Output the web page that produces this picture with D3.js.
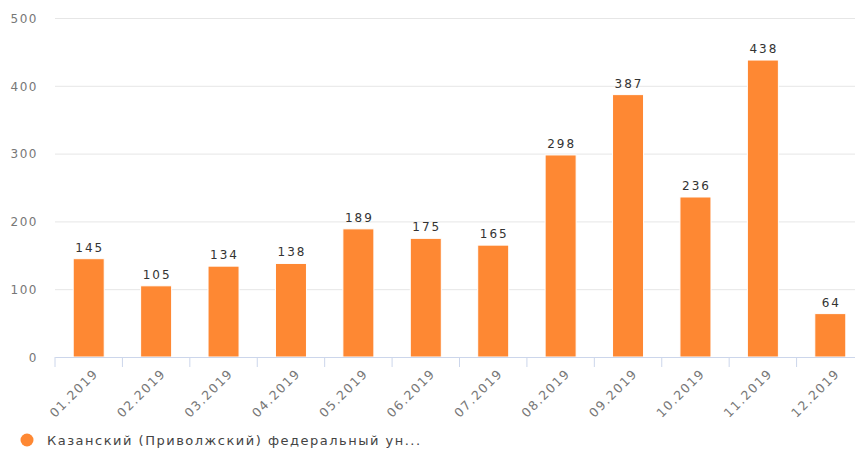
<html>
<head>
    <meta charset="UTF-8">
    <title>Bar Chart</title>
    <script src="https://d3js.org/d3.v7.min.js"></script>
    <style>
        body { margin: 0; background: #fff; overflow: hidden; }
        text { font-family: "DejaVu Sans", Verdana, sans-serif; }
    </style>
</head>
<body>
    <svg width="855" height="449" style="overflow:hidden"></svg>
    <script>
        // data
        var months = ['01.2019', '02.2019', '03.2019', '04.2019', '05.2019', '06.2019',
                      '07.2019', '08.2019', '09.2019', '10.2019', '11.2019', '12.2019'];
        var counts = [145, 105, 134, 138, 189, 175, 165, 298, 387, 236, 438, 64];
        var yTicks = [0, 100, 200, 300, 400, 500];
        var seriesName = 'Казанский (Приволжский) федеральный ун...';

        // the plot runs a little past the right edge of the picture (it is cropped there)
        var margin = { top : 18, right : -9, left : 55, bottom : 92 },
            svg = d3.select('svg'),
            width = +svg.attr('width') - margin.left - margin.right,
            height = +svg.attr('height') - margin.top - margin.bottom,
            g = svg.append('g').attr('transform', 'translate(' + margin.left + ',' + margin.top + ')');

        var x = d3.scaleBand().domain(months).range([0, width]).paddingInner(0.54).paddingOuter(0.27);
        var y = d3.scaleLinear().domain([0, 500]).range([height, 0]);

        // grid + y labels
        var yAxis = g.append('g')
            .call(d3.axisLeft(y).tickValues(yTicks).tickSize(-width).tickPadding(17));
        yAxis.select('.domain').remove();
        yAxis.selectAll('line').attr('stroke', '#e6e6e6');
        yAxis.selectAll('text').attr('fill', '#777')
            .style('font-size', '12px').style('letter-spacing', '1.5px')
            .attr('dy', '0.35em');

        // bars
        g.selectAll('.bar').data(counts).enter().append('rect')
            .attr('x', (d, i) => x(months[i]))
            .attr('y', d => y(d))
            .attr('width', x.bandwidth())
            .attr('height', d => height - y(d))
            .attr('fill', '#fe8833')
            .attr('stroke', '#fff')
            .attr('stroke-width', 1);

        g.selectAll('.lbl').data(counts).enter().append('text')
            .attr('x', (d, i) => x(months[i]) + x.bandwidth() / 2 + 1)
            .attr('y', d => y(d) - 7)
            .attr('text-anchor', 'middle')
            .attr('fill', '#333')
            .style('font-size', '12px')
            .style('letter-spacing', '2px')
            .text(d => d);

        // x axis
        var bx = d3.scaleBand().domain(months).range([0, width]);
        var xAxis = g.append('g')
            .attr('transform', 'translate(0,' + height + ')')
            .call(d3.axisBottom(bx).tickSize(0));
        xAxis.select('.domain').attr('stroke', '#ccd6eb');
        xAxis.selectAll('.tick line').remove();
        xAxis.selectAll('.sep').data(d3.range(months.length + 1)).enter().append('line')
            .attr('x1', i => i * bx.step()).attr('x2', i => i * bx.step())
            .attr('y1', 0).attr('y2', 10)
            .attr('stroke', '#ccd6eb');
        xAxis.selectAll('.tick text')
            .attr('fill', '#777')
            .style('font-size', '12.5px')
            .style('letter-spacing', '1.5px')
            .attr('text-anchor', 'end')
            .attr('dy', '0.35em')
            .attr('transform', 'translate(5,12) rotate(-45)');

        // legend
        var leg = svg.append('g').attr('transform', 'translate(27,440)');
        leg.append('circle').attr('r', 6.5).attr('fill', '#fe8833');
        leg.append('text').attr('x', 20).attr('y', 5)
            .attr('fill', '#444').style('font-size', '13px').style('letter-spacing', '1.5px')
            .text(seriesName);
    </script>
</body>
</html>
